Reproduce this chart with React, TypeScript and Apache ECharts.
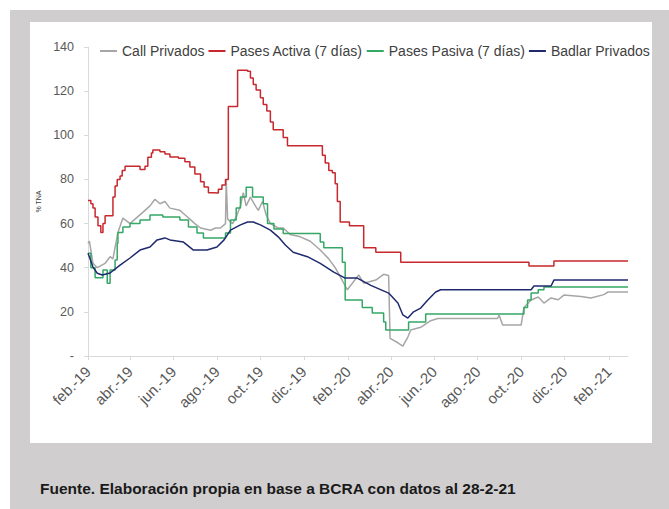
import React, { useEffect, useRef } from "react";
import * as echarts from "echarts";

const START = "2019-02-01";
const END = "2021-02-28";
const MONTHS = ["ene", "feb", "mar", "abr", "may", "jun", "jul", "ago", "sep", "oct", "nov", "dic"];
const LABEL_MONTHS = ["02", "04", "06", "08", "10", "12"];
const Y_TICKS = [0, 20, 40, 60, 80, 100, 120, 140];

const seriesNames = ["Call Privados", "Pases Activa (7 días)", "Pases Pasiva (7 días)", "Badlar Privados"];
const seriesColors = ["#a6a6a6", "#c8282d", "#34a865", "#1f2a6e"];

const callPrivados: [string, number][] = [
  ["2019-02-01", 51], ["2019-02-03", 52], ["2019-02-08", 42], ["2019-02-14", 40], ["2019-02-25", 42],
  ["2019-03-04", 45], ["2019-03-08", 44], ["2019-03-15", 56], ["2019-03-22", 62.5], ["2019-04-01", 60],
  ["2019-04-08", 62], ["2019-04-22", 66], ["2019-04-29", 68], ["2019-05-06", 71], ["2019-05-13", 69],
  ["2019-05-20", 70], ["2019-05-27", 67], ["2019-06-10", 66], ["2019-06-17", 64], ["2019-06-24", 62],
  ["2019-07-01", 60], ["2019-07-09", 58], ["2019-07-23", 57], ["2019-07-30", 58], ["2019-08-06", 58],
  ["2019-08-13", 60], ["2019-08-14", 80], ["2019-08-16", 62], ["2019-08-23", 60], ["2019-08-28", 63],
  ["2019-09-03", 68], ["2019-09-07", 74], ["2019-09-11", 68], ["2019-09-17", 72], ["2019-09-24", 68],
  ["2019-09-28", 66], ["2019-10-04", 70], ["2019-10-09", 64], ["2019-10-15", 60], ["2019-10-26", 58],
  ["2019-11-02", 58], ["2019-11-12", 55], ["2019-11-26", 54], ["2019-12-10", 52], ["2019-12-24", 48],
  ["2020-01-05", 44], ["2020-01-14", 40], ["2020-01-21", 36], ["2020-01-31", 30], ["2020-02-16", 36.7],
  ["2020-02-23", 33], ["2020-03-11", 34.4], ["2020-03-22", 37], ["2020-03-29", 36.5], ["2020-03-31", 8],
  ["2020-04-11", 6], ["2020-04-18", 4.5], ["2020-04-25", 8.6], ["2020-04-29", 11.8], ["2020-05-13", 13],
  ["2020-05-27", 16], ["2020-06-06", 17], ["2020-08-29", 17], ["2020-08-31", 18.6], ["2020-09-05", 14],
  ["2020-10-01", 14], ["2020-10-05", 22], ["2020-10-15", 25.4], ["2020-10-25", 26.7], ["2020-11-02", 24],
  ["2020-11-12", 26.3], ["2020-11-22", 25.5], ["2020-11-30", 27.6], ["2020-12-24", 27], ["2021-01-07", 26.3],
  ["2021-01-25", 27.8], ["2021-01-31", 29], ["2021-02-28", 29],
];

const pasesActiva: [string, number][] = [
  ["2019-02-01", 70.5], ["2019-02-05", 69], ["2019-02-08", 67], ["2019-02-11", 63], ["2019-02-15", 59],
  ["2019-02-19", 56], ["2019-02-22", 60], ["2019-02-25", 63.5], ["2019-03-08", 72], ["2019-03-11", 77],
  ["2019-03-14", 80], ["2019-03-18", 81.5], ["2019-03-21", 84], ["2019-03-25", 86], ["2019-04-15", 84.5],
  ["2019-04-22", 86], ["2019-04-26", 90], ["2019-05-01", 92], ["2019-05-03", 93.3], ["2019-05-13", 92.5],
  ["2019-05-20", 91.5], ["2019-05-27", 90.2], ["2019-06-08", 89.6], ["2019-06-17", 88], ["2019-06-24", 85.6],
  ["2019-07-01", 82.5], ["2019-07-09", 79], ["2019-07-14", 76.6], ["2019-07-20", 74], ["2019-07-27", 73.8],
  ["2019-08-03", 75.5], ["2019-08-08", 77.5], ["2019-08-13", 80], ["2019-08-17", 113], ["2019-08-30", 129.5],
  ["2019-09-13", 129], ["2019-09-17", 126], ["2019-09-21", 123], ["2019-09-25", 120.5], ["2019-10-01", 117],
  ["2019-10-05", 114], ["2019-10-10", 111], ["2019-10-15", 106], ["2019-10-19", 102.5], ["2019-11-02", 99],
  ["2019-11-08", 95.3], ["2019-12-27", 91], ["2019-12-31", 87.5], ["2020-01-05", 84], ["2020-01-10", 83],
  ["2020-01-14", 78], ["2020-01-17", 70], ["2020-01-21", 60.7], ["2020-02-03", 59], ["2020-02-23", 49],
  ["2020-03-11", 47], ["2020-04-15", 42.5], ["2020-10-12", 40.8], ["2020-11-16", 43], ["2021-02-28", 43],
];

const pasesPasiva: [string, number][] = [
  ["2019-02-01", 46.5], ["2019-02-05", 40], ["2019-02-11", 35.5], ["2019-02-22", 39], ["2019-02-28", 33],
  ["2019-03-04", 39], ["2019-03-11", 43.5], ["2019-03-14", 51], ["2019-03-15", 56], ["2019-03-22", 58.5],
  ["2019-04-01", 60], ["2019-04-15", 61.6], ["2019-04-29", 63.9], ["2019-05-17", 63], ["2019-06-10", 61.6],
  ["2019-06-22", 58.5], ["2019-07-04", 55.7], ["2019-07-13", 53.5], ["2019-08-13", 55.7], ["2019-08-20", 61.6],
  ["2019-08-28", 67], ["2019-09-03", 72], ["2019-09-11", 76.5], ["2019-09-20", 72], ["2019-10-05", 69],
  ["2019-10-11", 60], ["2019-10-20", 57.5], ["2019-11-02", 55.5], ["2019-12-24", 51.6], ["2019-12-29", 49],
  ["2020-01-24", 42.5], ["2020-01-28", 25.4], ["2020-02-21", 22], ["2020-03-06", 19.5], ["2020-03-22", 15.4],
  ["2020-03-25", 11.8], ["2020-04-26", 15.4], ["2020-05-20", 19], ["2020-10-05", 22], ["2020-10-10", 25.4],
  ["2020-10-15", 28.5], ["2020-10-25", 30], ["2020-11-02", 31.3], ["2021-02-28", 31.3],
];

const badlarPrivados: [string, number][] = [
  ["2019-02-01", 46.6], ["2019-02-08", 40.3], ["2019-02-14", 37.5], ["2019-02-21", 36.7], ["2019-03-04", 37.6],
  ["2019-03-18", 41.2], ["2019-04-01", 44.4], ["2019-04-15", 48], ["2019-04-29", 49.4], ["2019-05-09", 52.6],
  ["2019-05-20", 53.5], ["2019-05-27", 52.6], ["2019-06-15", 51.6], ["2019-06-29", 48], ["2019-07-18", 48],
  ["2019-08-01", 49.4], ["2019-08-11", 52.6], ["2019-08-20", 57], ["2019-09-03", 59.4], ["2019-09-13", 60.7],
  ["2019-09-21", 60.7], ["2019-10-01", 59.4], ["2019-10-15", 57], ["2019-10-26", 54], ["2019-11-05", 50.3],
  ["2019-11-16", 47], ["2019-12-06", 45], ["2019-12-24", 42], ["2020-01-12", 38], ["2020-01-28", 35.3],
  ["2020-02-14", 35.3], ["2020-03-04", 32], ["2020-03-29", 28.5], ["2020-04-11", 24], ["2020-04-18", 18.6],
  ["2020-04-25", 17.2], ["2020-05-03", 20], ["2020-05-13", 21.7], ["2020-05-23", 25.4], ["2020-06-03", 29],
  ["2020-06-10", 30], ["2020-10-15", 30], ["2020-10-19", 31.7], ["2020-11-12", 31.7], ["2020-11-16", 34.4],
  ["2021-02-28", 34.4],
];

const seriesData = [callPrivados, pasesActiva, pasesPasiva, badlarPrivados];
const stepped = [false, true, true, false];

function buildDays(): string[] {
  const out: string[] = [];
  const d = new Date(START + "T00:00:00Z");
  const end = new Date(END + "T00:00:00Z").getTime();
  while (d.getTime() <= end) {
    out.push(d.toISOString().slice(0, 10));
    d.setUTCDate(d.getUTCDate() + 1);
  }
  return out;
}

const isLabelDay = (v: string) => v.slice(8) === "01" && LABEL_MONTHS.includes(v.slice(5, 7));

export default function App() {
  const ref = useRef<HTMLDivElement>(null);
  useEffect(() => {
    if (!ref.current) return;
    const chart = echarts.init(ref.current, undefined, { renderer: "svg" });
    const days = buildDays();
    const font = "'Liberation Sans', Arial, sans-serif";
    chart.setOption({
      animation: false,
      backgroundColor: "#ffffff",
      textStyle: { fontFamily: font },
      graphic: [
        { type: "rect", left: 10, top: 10, shape: { width: 659, height: 499 }, style: { fill: "#d0cecf" }, z: -10 },
        { type: "rect", left: 30, top: 22, shape: { width: 622, height: 421 }, style: { fill: "#ffffff" }, z: -9 },
        {
          type: "text", left: 40, top: 480,
          style: { text: "Fuente. Elaboración propia en base a BCRA con datos al 28-2-21", fill: "#1a1a1a", font: "bold 15.5px " + font },
        },
      ],
      legend: {
        top: 39, left: 95, itemGap: 4, itemWidth: 17, itemHeight: 2, icon: "rect",
        textStyle: { fontSize: 14, color: "#404040", fontFamily: font },
        data: seriesNames,
      },
      grid: { left: 88, right: 41, top: 47, bottom: 153 },
      xAxis: {
        type: "category",
        data: days,
        boundaryGap: false,
        axisLine: { lineStyle: { color: "#d9d9d9", width: 1 } },
        axisTick: { show: true, length: 4, interval: (i: number, v: string) => isLabelDay(v), lineStyle: { color: "#d9d9d9" } },
        axisLabel: {
          interval: (i: number, v: string) => isLabelDay(v),
          rotate: 45, fontSize: 15, color: "#595959", margin: 13, fontFamily: font,
          formatter: (v: string) => MONTHS[parseInt(v.slice(5, 7), 10) - 1] + ".-" + v.slice(2, 4),
        },
        splitLine: { show: false },
      },
      yAxis: {
        type: "value", min: Y_TICKS[0], max: Y_TICKS[Y_TICKS.length - 1], interval: 20,
        name: "% TNA", nameLocation: "middle", nameGap: 46, nameRotate: 90,
        nameTextStyle: { fontSize: 7, color: "#404040" },
        axisLine: { show: true, lineStyle: { color: "#d9d9d9" } },
        axisTick: { show: true, length: 4, lineStyle: { color: "#d9d9d9" } },
        axisLabel: { fontSize: 12.5, color: "#595959", margin: 14, formatter: (v: number) => (v === 0 ? "-" : String(v)) },
        splitLine: { show: false },
      },
      series: seriesNames.map((name, i) => ({
        name, type: "line", data: seriesData[i], step: stepped[i] ? "end" : false,
        showSymbol: false, symbol: "none", color: seriesColors[i],
        lineStyle: { width: 1.5, color: seriesColors[i] }, z: i === 3 ? 5 : 2 + i,
      })),
    });
    return () => chart.dispose();
  }, []);
  return (
    <div style={{ position: "fixed", left: 0, top: 0, width: 669, height: 509 }}>
      <div ref={ref} style={{ width: 669, height: 509 }} />
    </div>
  );
}
